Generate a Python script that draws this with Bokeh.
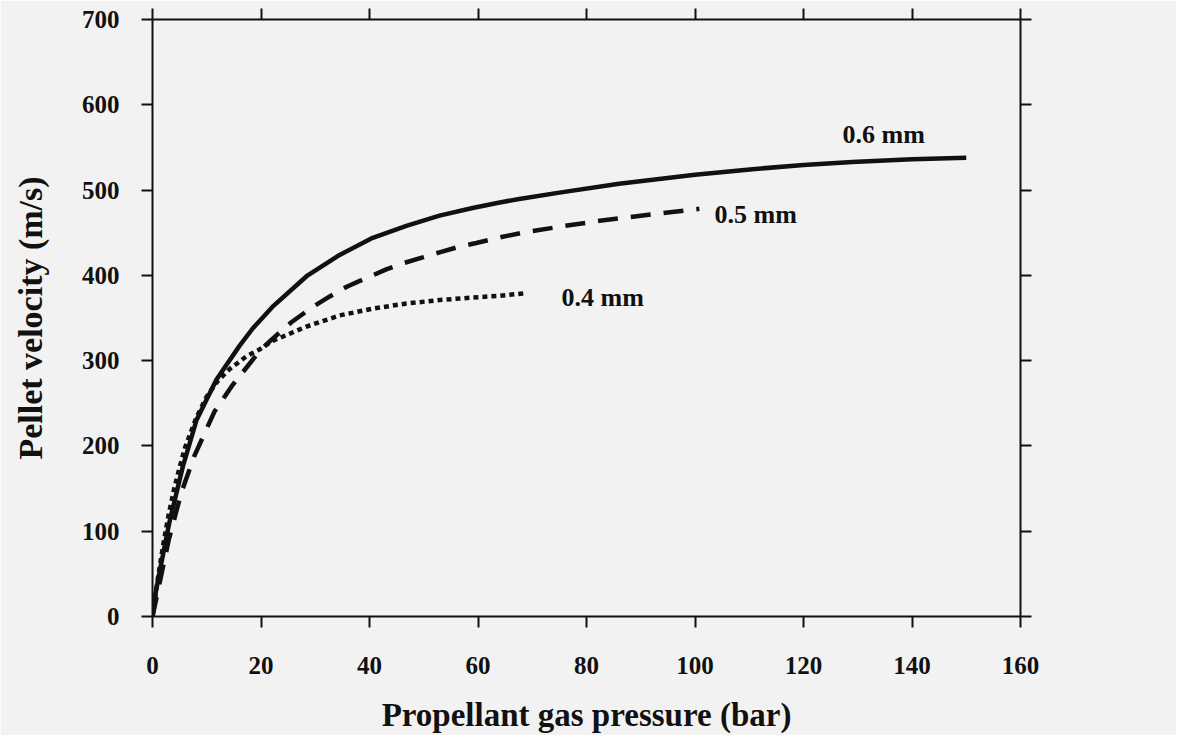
from bokeh.plotting import figure
from bokeh.models import LinearAxis, Range1d, FixedTicker, CustomLabelingPolicy
from bokeh.core.properties import value
from bokeh.embed import file_html
from bokeh.resources import INLINE

# ---- data ----
p06_x = [0, 0.5, 1.3, 3.1, 5.6, 8.1, 11.8, 16, 18.5, 22.1, 28.4, 34.5, 40.6, 46.8, 52.9, 59,
         64, 67.6, 75, 86, 100, 110.6, 120, 129, 140, 150]
p06_v = [0, 25, 52, 110, 176, 230, 278, 317, 338, 363, 399, 424, 444, 458, 470, 479,
         485.5, 489.5, 497, 507.5, 518, 524.5, 529.5, 533, 536, 538]

p05_x = [0, 1, 3, 5.3, 7.7, 11.4, 14.6, 19.7, 22, 25.6, 29.3, 32.6, 35.9, 39.1, 43.1, 46.1,
         49.8, 52.9, 56.2, 59.7, 63.6, 68.2, 75, 82.4, 90, 100.8]
p05_v = [0, 30, 90, 145, 188, 240, 270, 311, 325, 345, 362, 375, 387, 396, 407, 414,
         421, 427, 433, 438, 444, 450, 457, 464, 470, 478]

p04_x = [0, 1, 2, 3, 4, 5, 6, 8, 10, 12, 14.2, 17.3, 19.7, 22.1, 28.4, 34.5, 40.6, 46.8,
         52.9, 59, 64, 68.6]
p04_v = [0, 45, 85, 120, 150, 175, 198, 232, 258, 276, 290, 305, 313, 323, 340, 353, 361, 367,
         371, 374, 376, 379]

x_ticks = [0, 20, 40, 60, 80, 100, 120, 140, 160]
y_ticks = [0, 100, 200, 300, 400, 500, 600, 700]

labels = ["0.6 mm", "0.5 mm", "0.4 mm"]

BG = "#f2f2f2"
INK = "#111111"
FONT = "Liberation Serif"

p = figure(frame_width=868, frame_height=597,
           x_range=Range1d(0, 160), y_range=Range1d(0, 700),
           output_backend="svg", toolbar_location=None,
           min_border_left=152, min_border_top=19,
           min_border_right=156, min_border_bottom=116,
           background_fill_color=BG, border_fill_color=BG)
p.outline_line_color = None
p.grid.visible = False

def style(ax, ticks, show_labels):
    ax.ticker = FixedTicker(ticks=ticks)
    ax.minor_tick_line_color = None
    ax.major_tick_in = 0
    ax.major_tick_out = 11
    ax.major_tick_line_width = 2
    ax.major_tick_line_color = INK
    ax.axis_line_width = 2
    ax.axis_line_color = INK
    ax.major_label_text_font = FONT
    ax.major_label_text_font_style = "bold"
    ax.major_label_text_font_size = "25px"
    ax.major_label_text_color = INK
    ax.axis_label_text_font = FONT
    ax.axis_label_text_font_style = "bold"
    ax.axis_label_text_font_size = "33px"
    ax.axis_label_text_color = INK
    if not show_labels:
        ax.major_label_policy = CustomLabelingPolicy(code="return [];")
        ax.major_label_text_font_size = "0px"
        ax.major_label_standoff = 0

style(p.xaxis[0], x_ticks, True)
style(p.yaxis[0], y_ticks, True)
p.xaxis[0].axis_label = "Propellant gas pressure (bar)"
p.yaxis[0].axis_label = "Pellet velocity (m/s)"
p.yaxis[0].axis_label_text_font_size = "34px"
p.xaxis[0].major_label_standoff = 29
p.yaxis[0].major_label_standoff = 22
p.xaxis[0].axis_label_standoff = 20
p.yaxis[0].axis_label_standoff = 30

top = LinearAxis()
style(top, x_ticks, False)
p.add_layout(top, "above")
right = LinearAxis()
style(right, y_ticks, False)
p.add_layout(right, "right")

p.line(p06_x, p06_v, line_color=INK, line_width=4.5)
p.line(p05_x, p05_v, line_color=INK, line_width=4.5, line_dash="20 13")
p.line(p04_x, p04_v, line_color=INK, line_width=4.5, line_dash="5 4")

lx = [127.2, 103.6, 75.4]
ly = [565, 471, 374]
p.text(x=lx, y=ly, text=labels, text_font=value(FONT), text_font_style="bold",
       text_font_size="26px", text_color=INK, text_baseline="middle", text_align="left")

open("out.html", "w").write(file_html(p, INLINE))
